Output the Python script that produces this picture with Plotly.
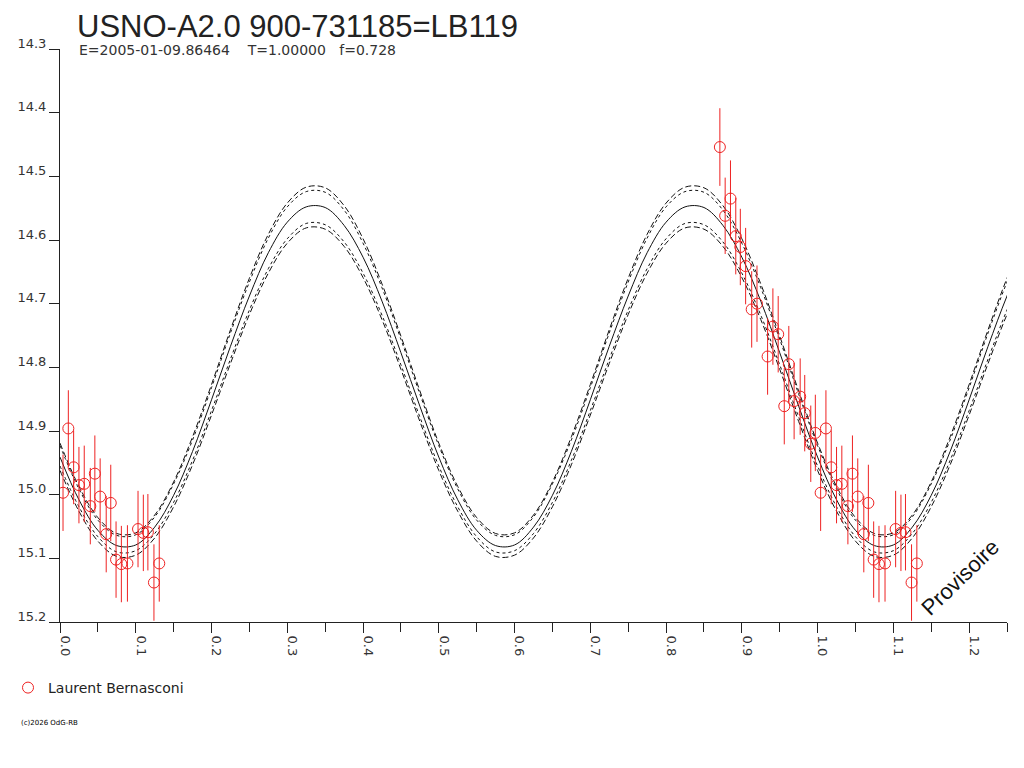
import plotly.graph_objects as go

###############################################################################
# Data
###############################################################################
TITLE = 'USNO-A2.0 900-731185=LB119'
EPOCH = 'E=2005-01-09.86464'
PERIOD = 'T=1.00000'
FRAC = 'f=0.728'
OBSERVER = 'Laurent Bernasconi'
STAMP = '(c)2026 OdG-RB'

# measurements: phase, magnitude, 1-sigma error
phase = [
    0.004, 0.011, 0.018, 0.025, 0.032, 0.040, 0.046, 0.053, 0.061,
    0.067, 0.074, 0.081, 0.089, 0.103, 0.110, 0.116, 0.124, 0.131,
    0.871, 0.878, 0.885, 0.892, 0.898, 0.905, 0.913, 0.920, 0.934,
    0.941, 0.948, 0.956, 0.962, 0.969, 0.977, 0.983, 0.991, 0.997
]
mag = [
    14.997, 14.896, 14.957, 14.985, 14.983, 15.018, 14.967, 15.003, 15.062,
    15.013, 15.102, 15.109, 15.108, 15.054, 15.060, 15.059, 15.138, 15.108,
    14.454, 14.562, 14.535, 14.594, 14.611, 14.641, 14.709, 14.700, 14.783,
    14.736, 14.748, 14.861, 14.795, 14.853, 14.846, 14.872, 14.920, 14.903
]
err = [
    0.060, 0.060, 0.058, 0.060, 0.060, 0.060, 0.060, 0.060, 0.060,
    0.060, 0.060, 0.060, 0.060, 0.060, 0.060, 0.060, 0.060, 0.060,
    0.061, 0.060, 0.060, 0.060, 0.060, 0.060, 0.060, 0.060, 0.060,
    0.060, 0.060, 0.060, 0.060, 0.060, 0.060, 0.060, 0.060, 0.060
]

# fitted light curve, one half cycle (the curve repeats every 0.5 in phase)
fitPhase = [
    0.000, 0.025, 0.050, 0.075, 0.100, 0.125, 0.150, 0.175, 0.200, 0.225,
    0.250, 0.275, 0.300, 0.325, 0.350, 0.375, 0.400, 0.425, 0.450, 0.475,
    0.500
]
fitMid = [
    14.941, 15.008, 15.056, 15.080, 15.079, 15.051, 15.001, 14.932, 14.851,
    14.767, 14.688, 14.620, 14.572, 14.548, 14.549, 14.577, 14.627, 14.696,
    14.777, 14.861, 14.941
]
fitUpOut = [
    14.919, 14.987, 15.036, 15.061, 15.060, 15.032, 14.980, 14.909, 14.827,
    14.741, 14.660, 14.591, 14.542, 14.517, 14.518, 14.546, 14.598, 14.669,
    14.751, 14.837, 14.918
]
fitUpIn = [
    14.923, 14.991, 15.040, 15.064, 15.063, 15.035, 14.983, 14.914, 14.832,
    14.746, 14.666, 14.597, 14.548, 14.524, 14.525, 14.553, 14.605, 14.675,
    14.756, 14.842, 14.923
]
fitLoIn = [
    14.955, 15.019, 15.066, 15.090, 15.088, 15.061, 15.012, 14.946, 14.868,
    14.787, 14.710, 14.645, 14.598, 14.574, 14.576, 14.603, 14.652, 14.718,
    14.796, 14.878, 14.954
]
fitLoOut = [
    14.962, 15.026, 15.073, 15.097, 15.095, 15.068, 15.019, 14.953, 14.875,
    14.794, 14.717, 14.652, 14.605, 14.581, 14.583, 14.610, 14.659, 14.725,
    14.803, 14.885, 14.961
]

xTicks = [0.0, 0.1, 0.2, 0.3, 0.4, 0.5, 0.6, 0.7, 0.8, 0.9, 1.0, 1.1, 1.2]
yTicks = [14.3, 14.4, 14.5, 14.6, 14.7, 14.8, 14.9, 15.0, 15.1, 15.2]
X_MAX = 1.25

###############################################################################
# Layout helpers (screen pixel -> paper); page body adds an 8px offset
###############################################################################
OFF = 8
(W, H) = (1024 - OFF, 768 - OFF)
(ML, MR, MT, MB) = (60 - OFF, 17, 49 - OFF, 146)
PW = W - ML - MR
PH = H - MT - MB
px2x = lambda px: (px - OFF - ML) / PW
py2y = lambda py: (H + OFF - MB - py) / PH

# Fold: data repeated one cycle later, curve repeated every half cycle --------
xs = phase + [p + 1 for p in phase if p + 1 <= X_MAX]
ys = mag + [m for (p, m) in zip(phase, mag) if p + 1 <= X_MAX]
es = err + [e for (p, e) in zip(phase, err) if p + 1 <= X_MAX]
cx = [g + 0.5 * k for k in range(3) for g in fitPhase[:-1]] + [fitPhase[-1] + 1.0]


def tile(vals):
    return vals[:-1] * 3 + [vals[-1]]


###############################################################################
# Plot
###############################################################################
fig = go.Figure()
curves = [
    (fitUpOut, '6px,3px'), (fitUpIn, '3px,3px'),
    (fitLoIn, '3px,3px'), (fitLoOut, '6px,3px'),
    (fitMid, 'solid'),
]
for (vals, dash) in curves:
    fig.add_trace(go.Scatter(
        x=cx, y=tile(vals), mode='lines', showlegend=False,
        line=dict(color='#111111', width=1, dash=dash, shape='spline'),
        hoverinfo='skip'
    ))
fig.add_trace(go.Scatter(
    x=xs, y=ys, mode='markers', name=OBSERVER,
    marker=dict(symbol='circle-open', size=11, color='#ee2222',
                line=dict(width=1, color='#ee2222')),
    error_y=dict(type='data', array=es, visible=True,
                 color='#ee2222', thickness=1, width=0)
))

nb = '\u00a0'
annotations = [
    dict(text=TITLE, x=px2x(76), y=py2y(OFF + 0.5), xanchor='left',
         yanchor='top', borderpad=0,
         font=dict(family='Liberation Sans, Arial', size=31, color='#222')),
    dict(text=EPOCH + nb * 4 + PERIOD + nb * 3 + FRAC,
         x=px2x(77), y=py2y(40), xanchor='left', yanchor='top',
         font=dict(family='DejaVu Sans', size=14, color='#333')),
    dict(text='Provisoire', x=px2x(960), y=py2y(577), textangle=-44,
         xanchor='center', yanchor='middle',
         font=dict(family='Liberation Sans, Arial', size=22, color='#111')),
    dict(text=STAMP, x=px2x(19), y=py2y(723), xanchor='left', yanchor='middle',
         font=dict(family='DejaVu Sans', size=7, color='#000')),
]
for a in annotations:
    a.update(xref='paper', yref='paper', showarrow=False)

fig.update_layout(
    width=W, height=H,
    margin=dict(l=ML, r=MR, t=MT, b=MB, autoexpand=False),
    paper_bgcolor='white', plot_bgcolor='white',
    annotations=annotations,
    showlegend=True,
    legend=dict(xref='container', yref='container',
                x=0, y=1 - (672 - OFF) / H, xanchor='left', yanchor='top',
                font=dict(family='DejaVu Sans', size=14, color='#222'),
                bgcolor='rgba(0,0,0,0)'),
    xaxis=dict(
        range=[0, X_MAX], tickvals=xTicks,
        ticktext=['%.1f' % t for t in xTicks],
        tickangle=90, ticks='outside', ticklen=10, tickcolor='#222',
        ticklabelshift=5, automargin=False,
        minor=dict(dtick=0.05, tick0=0, ticks='outside', ticklen=9,
                   tickcolor='#222'),
        showline=True, linecolor='#222', linewidth=1,
        showgrid=False, zeroline=False,
        tickfont=dict(family='DejaVu Sans', size=13, color='#333'),
    ),
    yaxis=dict(
        range=[15.2, 14.3], tickvals=yTicks,
        ticktext=['%.1f' % t for t in yTicks],
        ticks='outside', ticklen=10, tickcolor='#222',
        ticklabelshift=6, automargin=False,
        showline=True, linecolor='#222', linewidth=1,
        showgrid=False, zeroline=False,
        tickfont=dict(family='DejaVu Sans', size=13, color='#333'),
    ),
)
fig.write_html('out.html')
